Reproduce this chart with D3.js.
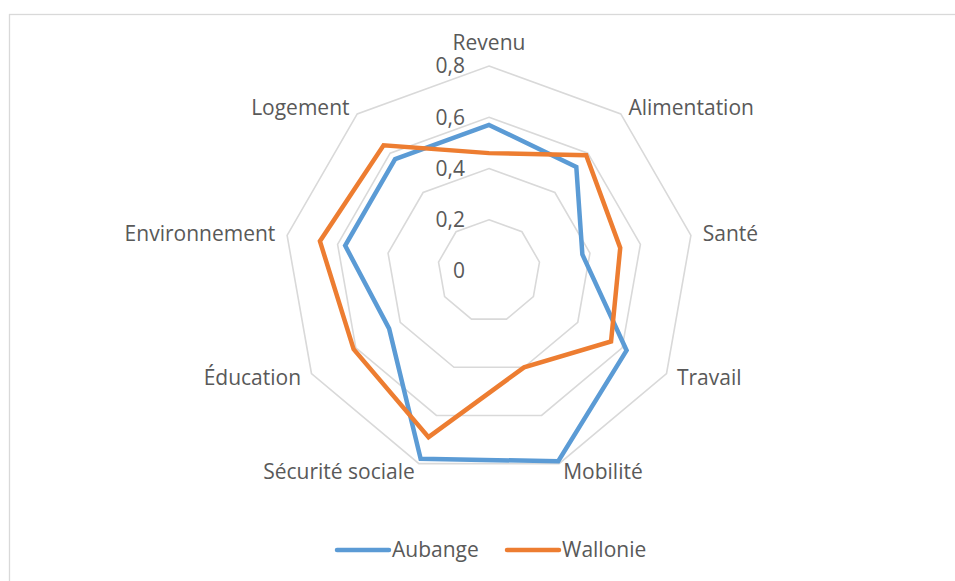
<!DOCTYPE html>
<html>
<head>
<meta charset="utf-8">
<script src="https://cdn.jsdelivr.net/npm/d3@7/dist/d3.min.js"></script>
<style>
  html, body { margin: 0; padding: 0; background: #fff; }
  svg { display: block; }
</style>
</head>
<body>
<svg id="chart" width="955" height="581"></svg>
<script>
// Axes of the radar, clockwise from the top
const categories = ["Revenu", "Alimentation", "Santé", "Travail", "Mobilité",
  "Sécurité sociale", "Éducation", "Environnement", "Logement"];
// Indicator values per axis
const aubange  = [0.57, 0.53, 0.37, 0.62, 0.79, 0.78, 0.45, 0.57, 0.57];
const wallonie = [0.46, 0.59, 0.52, 0.55, 0.40, 0.69, 0.61, 0.67, 0.64];
const seriesNames = ["Aubange", "Wallonie"];
const seriesColors = ["#5B9BD5", "#ED7D31"];
const tickValues = [0, 0.2, 0.4, 0.6, 0.8];

const width = 955, height = 581;
const cx = 489, cy = 271, R = 205;
const font = "'Open Sans', Lato, sans-serif";
const fontSize = 21;
const textColor = "#595959";
const gridColor = "#d9d9d9";

const svg = d3.select("#chart");

// chart area frame
svg.append("rect")
  .attr("x", 9.5).attr("y", 14.5)
  .attr("width", width).attr("height", height)
  .attr("fill", "none").attr("stroke", gridColor).attr("stroke-width", 1.3);

const r = d3.scaleLinear().domain([0, 0.8]).range([0, R]);
const angle = d3.scalePoint().domain(categories).range([0, 2 * Math.PI * (1 - 1 / categories.length)]);

const g = svg.append("g").attr("transform", `translate(${cx},${cy})`);

// polygonal grid rings
const ringLine = d3.lineRadial().angle(d => angle(d)).curve(d3.curveLinearClosed);
tickValues.filter(v => v > 0).forEach(v => {
  g.append("path")
    .attr("d", ringLine.radius(r(v))(categories))
    .attr("fill", "none").attr("stroke", gridColor).attr("stroke-width", 1.6);
});

// value labels along the top axis
g.selectAll("text.tick").data(tickValues).join("text")
  .attr("class", "tick")
  .attr("x", -24).attr("y", d => -r(d))
  .attr("dy", "0.35em")
  .attr("text-anchor", "end")
  .attr("font-family", font).attr("font-size", fontSize).attr("fill", textColor)
  .text(d => d3.format(".1f")(d).replace(".", ",").replace(/^0,0$/, "0"));

// category labels, just outside the outer ring
const labelRx = R + 12, labelRy = R + 8;
g.selectAll("text.cat").data(categories).join("text")
  .attr("class", "cat")
  .each(function (d) {
    const a = angle(d);
    const s = Math.sin(a), c = Math.cos(a);
    const sel = d3.select(this);
    let x = labelRx * s, y = -labelRy * c;
    let anchor = "middle", dy = "0.35em";
    if (s > 0.1) anchor = "start";
    else if (s < -0.1) anchor = "end";
    if (Math.abs(s) <= 0.1) { y = -(R + 12) * c; dy = c > 0 ? "-0.2em" : "0.9em"; }
    sel.attr("x", x).attr("y", y).attr("dy", dy).attr("text-anchor", anchor);
  })
  .attr("font-family", font).attr("font-size", fontSize).attr("fill", textColor)
  .text(d => d);

// data series
const seriesLine = d3.lineRadial()
  .angle((d, i) => angle(categories[i]))
  .radius(d => r(d))
  .curve(d3.curveLinearClosed);

[aubange, wallonie].forEach((vals, i) => {
  g.append("path")
    .attr("d", seriesLine(vals))
    .attr("fill", "none")
    .attr("stroke", seriesColors[i])
    .attr("stroke-width", 4.5)
    .attr("stroke-linejoin", "miter");
});

// legend
const legend = svg.append("g").attr("transform", "translate(0,550)");
const legendX = [337, 507];
seriesNames.forEach((name, i) => {
  const lg = legend.append("g").attr("transform", `translate(${legendX[i]},0)`);
  lg.append("line")
    .attr("x1", 0).attr("x2", 52).attr("y1", 0).attr("y2", 0)
    .attr("stroke", seriesColors[i]).attr("stroke-width", 4.5)
    .attr("stroke-linecap", "round");
  lg.append("text")
    .attr("x", 55).attr("y", 0).attr("dy", "0.35em")
    .attr("font-family", font).attr("font-size", fontSize).attr("fill", textColor)
    .text(name);
});
</script>
</body>
</html>
